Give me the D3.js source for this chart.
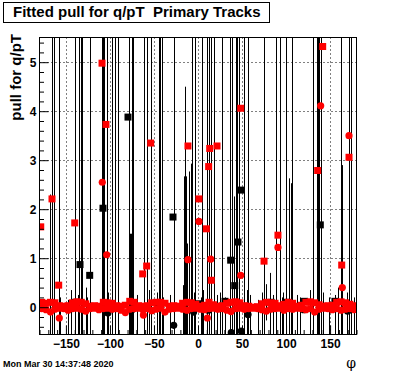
<!DOCTYPE html>
<html>
<head>
<meta charset="utf-8">
<script src="https://cdnjs.cloudflare.com/ajax/libs/d3/7.8.5/d3.min.js"></script>
<style>
body { margin: 0; background: #fff; }
text { font-family: "Liberation Sans", Arial, sans-serif; font-weight: bold; }
</style>
</head>
<body>
<div id="vizArea"></div>
<script>
var w = 396
var h = 372

// DATA ********************************
var xTicks = [-150, -100, -50, 0, 50, 100, 150]
var yTicks = [0, 1, 2, 3, 4, 5]

// band of profile bins near zero (5 degree bins)
var bandPhi = d3.range(-177.5, 180, 5)
var bandRedSq = [0.10, 0.08, 0.10, 0.09, 0.03, 0.02, 0.03, 0.09, 0.11, 0.10, 0.07, 0.02,
                 0.03, 0.02, 0.10, 0.09, 0.08, 0.03, 0.02, 0.04, 0.12, 0.10, 0.03, 0.02,
                 0.03, 0.09, 0.10, 0.10, 0.08, 0.02, 0.03, 0.02, 0.08, 0.10, 0.09, 0.06,
                 0.02, 0.04, 0.10, 0.05, 0.02, 0.03, 0.08, 0.10, 0.11, 0.09, 0.03, 0.02,
                 0.00, 0.01, 0.07, 0.10, 0.09, 0.08, 0.03, 0.06, 0.10, 0.08, 0.02, 0.04,
                 0.10, 0.11, 0.09, 0.05, 0.02, 0.03, 0.04, 0.10, 0.11, 0.09, 0.06, 0.03]
var bandRedCirc = [-0.03, -0.05, -0.10, -0.04, -0.02, -0.03, -0.06, -0.03, -0.02, -0.04, -0.08, -0.03,
                   -0.02, -0.05, -0.03, -0.02, -0.04, -0.03, -0.06, -0.11, -0.04, -0.03, -0.02, -0.05,
                   -0.03, -0.07, -0.04, -0.02, -0.10, -0.04, -0.03, -0.02, -0.04, -0.06, -0.03, -0.02,
                   -0.04, -0.05, -0.03, -0.02, -0.04, -0.03, -0.06, -0.09, -0.03, -0.02, -0.04, -0.03,
                   -0.02, -0.03, -0.05, -0.08, -0.04, -0.03, -0.02, -0.06, -0.03, -0.04, -0.02, -0.03,
                   -0.05, -0.03, -0.10, -0.04, -0.02, -0.03, -0.05, -0.03, -0.06, -0.04, -0.03, -0.05]

// outlying bins
var redSqPhi = [-178.6, -165.8, -158.2, -140, -109, -104.5, -62.8, -58.3, -53.7, -11.4, 1.1, 9.5,
                12.1, 13.3, 15.1, 21.6, 48.5, 75, 90.8, 135.9, 141.6, 163.2, 171.5]
var redSqVal = [1.64, 2.21, 0.45, 1.72, 4.98, 3.73, 0.68, 0.84, 3.35, 3.29, 2.21, 1.60,
                2.87, 3.24, 0.55, 3.29, 4.06, 0.94, 1.47, 2.79, 5.32, 0.86, 3.06]
var redCircPhi = [-157.5, -108.7, -103.7, -62, -11.4, 1.1, 10.6, 14.4, 48.5, 90.8, 139.3, 163.9, 171.5]
var redCircVal = [-0.22, 2.55, 1.07, -0.16, 0.97, 1.75, -0.22, 0.98, 0.65, 1.22, 4.11, 0.40, 3.50]
var blackSqPhi = [-178.6, -140, -134, -123, -107.9, -79.5, -74, -45, -28.4, 1.5, 30.7, 37.1,
                  41.7, 45.4, 48.5, 83, 100, 121, 138.9, 155.5]
var blackSqVal = [0.00, 0.10, 0.87, 0.65, 2.02, 3.88, 0.08, 0.06, 1.84, 0.07, 0.12, 0.96,
                  0.44, 1.33, 2.39, 0.10, 0.10, 0.12, 1.68, 0.12]
var blackCircPhi = [-102.3, -75, -27.6, -5, 11.7, 37.8, 49.2, 56.8, 120, 170]
var blackCircVal = [-0.12, -0.05, -0.37, -0.10, -0.06, -0.52, -0.49, -0.15, -0.05, -0.08]

// error bars running past the whole frame
var fullErrPhi = [-165.5, -164.1, -157.6, -139.3, -134.8, -133.4, -131.4, -122.9, -109, -107.9,
                  -106.7, -103.9, -97.7, -93.7, -90.6, -78.4, -75.5, -74.4, -73.5, -61.3,
                  -57.6, -53.9, -43.9, -42.6, -40.5, -27.6, -6.8, -3.1, 4.9, 10.2,
                  12.5, 14.2, 15.1, 17.8, 27.8, 36.9, 39, 42.8, 44.6, 46.9,
                  51.7, 57.3, 75.5, 88.9, 92.8, 99.9, 106.2, 107.1, 130.9, 135.4,
                  136.6, 137.7, 140, 162.7, 171.5, 173.2]
// partial error bars: phi, upper, lower
var partErrPhi = [-168.4, -76.9, -76.3, -15.9, -14.8, -13.6, -12.2, -10.6, -8.3, 41.4,
                  43.7, 77.2, 82.1, 103.9, 105.3, 163.9]
var partErrHi = [2.3, 1.5, 1.5, 2.67, 4.5, 2.67, 1.3, 2.77, 2.93, 2.26,
                 1.9, 0.47, 0.70, 2.63, 2.53, 2.9]
var partErrLo = [-0.6, -0.6, -0.6, -0.6, -0.6, -0.6, -0.6, -0.6, -0.6, -0.6,
                 -0.6, -0.27, -0.18, -0.6, -0.6, -0.6]
// short error bars on the band
var shortErrPhi = [-163.2, -156.7, -147.3, -144.2, -135.9, -127.2, -125.7, -101.9, -98, -69.6,
                   -58.3, -55.3, -46.9, -39.4, -31.8, -16.7, -4.2, 3.1, 6, 9.9,
                   21.9, 25, 30.7, 55.3, 59, 68.5, 72.3, 81.8, 85.5, 95,
                   96.9, 112.8, 115.8, 127.2, 142.3, 149.1, 155.6, 159.3, 168.9, 177.2]
var shortErrHi = [0.30, 0.20, 0.15, 0.35, 0.25, 0.40, 0.20, 0.30, 0.15, 0.25,
                  0.20, 0.35, 0.30, 0.20, 0.25, 0.45, 0.30, 0.20, 0.35, 0.40,
                  0.25, 0.30, 0.20, 0.35, 0.25, 0.15, 0.30, 0.50, 0.25, 0.20,
                  0.30, 0.25, 0.20, 0.35, 0.30, 0.20, 0.25, 0.40, 0.30, 0.20]

// SET-UP ********************************
var frame = {left: 39.5, right: 356.5, top: 37.5, bottom: 334.5}

var svg = d3.select("#vizArea").append("svg")
    .attr("width", w)
    .attr("height", h)
    .style("display", "block")
    .style("background", "#fff")

var x = d3.scaleLinear().domain([-180, 180]).range([frame.left, frame.right])
var y = d3.scaleLinear().domain([-0.557, 5.504]).range([frame.bottom, frame.top])

svg.append("clipPath").attr("id", "clip")
    .append("rect")
    .attr("x", frame.left).attr("y", frame.top)
    .attr("width", frame.right - frame.left)
    .attr("height", frame.bottom - frame.top)

// dotted grid
var grid = svg.append("g").attr("stroke", "#000").attr("stroke-dasharray", "1,3")
grid.selectAll(".gx").data(xTicks).enter().append("line")
    .attr("x1", d => Math.round(x(d)) + 0.5).attr("x2", d => Math.round(x(d)) + 0.5)
    .attr("y1", frame.top).attr("y2", frame.bottom)
grid.selectAll(".gy").data(yTicks).enter().append("line")
    .attr("y1", d => Math.round(y(d)) + 0.5).attr("y2", d => Math.round(y(d)) + 0.5)
    .attr("x1", frame.left).attr("x2", frame.right)

var plot = svg.append("g").attr("clip-path", "url(#clip)")

// error bars
var errs = plot.append("g").attr("stroke", "#000").attr("stroke-width", 1)
errs.selectAll(".full").data(fullErrPhi).enter().append("line")
    .attr("x1", d => Math.round(x(d)) + 0.5).attr("x2", d => Math.round(x(d)) + 0.5)
    .attr("y1", y(6)).attr("y2", y(-1))
errs.selectAll(".part").data(partErrPhi).enter().append("line")
    .attr("x1", d => Math.round(x(d)) + 0.5).attr("x2", d => Math.round(x(d)) + 0.5)
    .attr("y1", (d, i) => y(partErrHi[i])).attr("y2", (d, i) => y(partErrLo[i]))
errs.selectAll(".short").data(shortErrPhi).enter().append("line")
    .attr("x1", d => Math.round(x(d)) + 0.5).attr("x2", d => Math.round(x(d)) + 0.5)
    .attr("y1", (d, i) => y(shortErrHi[i])).attr("y2", y(-1))

function squares(g, phis, vals, color) {
    g.selectAll(null).data(phis).enter().append("rect")
        .attr("x", d => x(d) - 3.5)
        .attr("y", (d, i) => y(vals[i]) - 3.5)
        .attr("width", 7).attr("height", 7)
        .attr("fill", color)
}
function circles(g, phis, vals, color) {
    g.selectAll(null).data(phis).enter().append("circle")
        .attr("cx", d => x(d))
        .attr("cy", (d, i) => y(vals[i]))
        .attr("r", 3.6)
        .attr("fill", color)
}

var marks = plot.append("g")
circles(marks, blackCircPhi, blackCircVal, "#000")
squares(marks, blackSqPhi, blackSqVal, "#000")
circles(marks, bandPhi, bandRedCirc, "#f00")
squares(marks, bandPhi, bandRedSq, "#f00")
circles(marks, redCircPhi, redCircVal, "#f00")
squares(marks, redSqPhi, redSqVal, "#f00")

// frame
svg.append("rect")
    .attr("x", frame.left).attr("y", frame.top)
    .attr("width", frame.right - frame.left)
    .attr("height", frame.bottom - frame.top)
    .attr("fill", "none").attr("stroke", "#000")

// AXES ********************************
var xAxis = d3.axisBottom(x).tickValues(d3.range(-180, 181, 10))
    .tickSize(0).tickFormat("")
var gx = svg.append("g").attr("transform", "translate(0," + frame.bottom + ")").call(xAxis)
gx.select(".domain").remove()
gx.selectAll(".tick").append("line")
    .attr("stroke", "#000")
    .attr("y1", 0)
    .attr("y2", d => (d % 50 === 0) ? -9 : -4.5)
gx.selectAll(".tick").filter(d => xTicks.indexOf(d) >= 0).append("text")
    .attr("y", 13).attr("text-anchor", "middle")
    .attr("fill", "#000").attr("font-size", "12px")
    .text(d => d3.format("")(d).replace("-", "\u2212"))

var yAxis = d3.axisLeft(y).tickValues(d3.range(-0.4, 5.5, 0.2).map(d => Math.round(d * 10) / 10))
    .tickSize(0).tickFormat("")
var gy = svg.append("g").attr("transform", "translate(" + frame.left + ",0)").call(yAxis)
gy.select(".domain").remove()
gy.selectAll(".tick").append("line")
    .attr("stroke", "#000")
    .attr("x1", 0)
    .attr("x2", d => (Math.abs(d - Math.round(d)) < 1e-6) ? 9 : 4.5)
gy.selectAll(".tick").filter(d => yTicks.indexOf(d) >= 0).append("text")
    .attr("x", -3).attr("dy", "0.36em").attr("text-anchor", "end")
    .attr("fill", "#000").attr("font-size", "12px")
    .text(d => d)

// TITLES ********************************
svg.append("rect")
    .attr("x", 3.5).attr("y", 2.5).attr("width", 266).attr("height", 20)
    .attr("fill", "#fff").attr("stroke", "#000")
svg.append("text")
    .attr("x", 13).attr("y", 17)
    .attr("font-size", "15px")
    .style("white-space", "pre")
    .attr("xml:space", "preserve")
    .text("Fitted pull for q/pT  Primary Tracks")

svg.append("text")
    .attr("transform", "translate(21,34) rotate(-90)")
    .attr("text-anchor", "end")
    .attr("font-size", "15px")
    .text("pull for q/pT")

svg.append("text")
    .attr("x", 356).attr("y", 368)
    .attr("text-anchor", "end")
    .attr("font-size", "14px")
    .style("font-family", "'DejaVu Serif', serif")
    .style("font-weight", "normal")
    .text("\u03c6")

svg.append("text")
    .attr("x", 3).attr("y", 367)
    .attr("font-size", "9px")
    .text("Mon Mar 30 14:37:48 2020")
</script>
</body>
</html>
